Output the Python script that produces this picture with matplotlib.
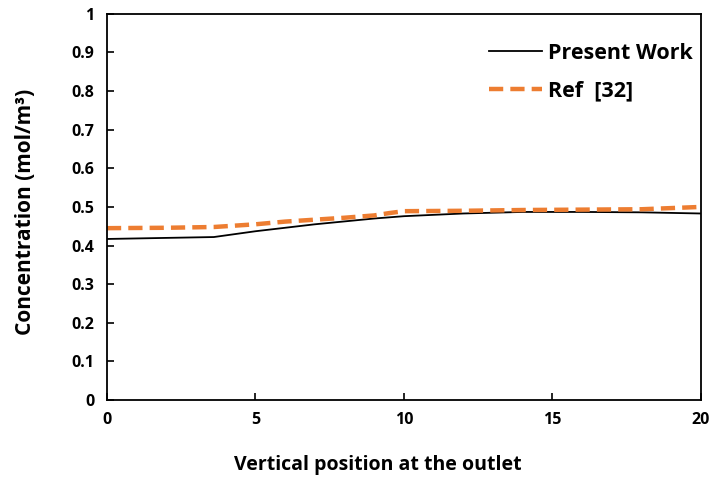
import matplotlib
matplotlib.use("Agg")
import matplotlib.pyplot as plt

x_present = [0, 3.6, 5, 7, 9, 10, 12, 14, 16, 18, 20]
y_present = [0.417, 0.422, 0.437, 0.455, 0.470, 0.476, 0.483, 0.487, 0.487, 0.486, 0.483]

x_ref = [0, 2, 3.6, 5, 6, 7, 8, 9, 9.5, 10, 12, 14, 16, 18, 19, 20]
y_ref = [0.445, 0.446, 0.448, 0.455, 0.462, 0.467, 0.472, 0.478, 0.484, 0.489, 0.490, 0.492, 0.493, 0.494, 0.497, 0.500]

x_ticks = [0, 5, 10, 15, 20]
y_ticks = [0, 0.1, 0.2, 0.3, 0.4, 0.5, 0.6, 0.7, 0.8, 0.9, 1]
y_ticklabels = ["0", "0.1", "0.2", "0.3", "0.4", "0.5", "0.6", "0.7", "0.8", "0.9", "1"]

plt.rcParams['font.family'] = ['Open Sans', 'DejaVu Sans']
plt.rcParams['font.weight'] = 'bold'

fig = plt.figure(figsize=(7.13, 4.79), dpi=100)
ax = fig.add_axes([0.150, 0.165, 0.833, 0.806])

ax.plot(x_present, y_present, color='black', lw=1.3, label='Present Work')
ax.plot(x_ref, y_ref, color='#ED7D31', lw=3.2, dashes=(3.2, 1.6), label='Ref  [32]')

ax.set_xlim(0, 20)
ax.set_ylim(0, 1)
ax.set_xticks(x_ticks)
ax.set_xticklabels([str(t) for t in x_ticks])
ax.set_yticks(y_ticks)
ax.set_yticklabels(y_ticklabels)
ax.tick_params(direction='in', length=5, width=1.2, labelsize=11.5, pad=9)
for lbl in ax.get_xticklabels() + ax.get_yticklabels():
    lbl.set_fontweight('bold')
for s in ax.spines.values():
    s.set_linewidth(1.3)

ax.set_xlabel('Vertical position at the outlet', fontsize=14, fontweight='bold')
ax.xaxis.set_label_coords(0.456, -0.143)
ax.set_ylabel('Concentration (mol/m³)', fontsize=15, fontweight='bold')
ax.yaxis.set_label_coords(-0.12, 0.487)

leg = ax.legend(loc='upper left', bbox_to_anchor=(0.61, 0.975), frameon=False,
                prop={'size': 15.5, 'weight': 'bold'}, handlelength=2.5, handletextpad=0.25,
                labelspacing=0.75)

fig.savefig('out.png', dpi=100)
